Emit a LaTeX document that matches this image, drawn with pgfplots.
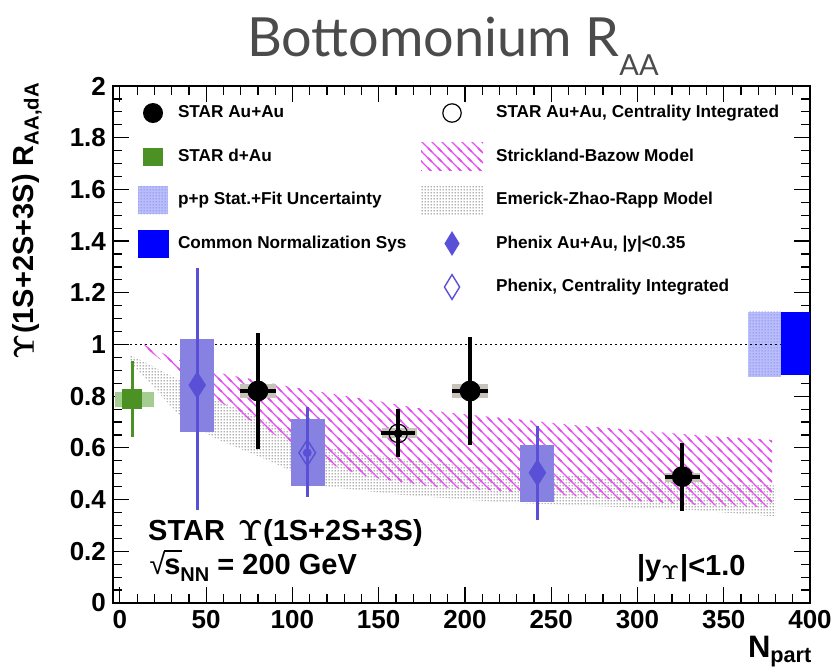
\documentclass[border=0pt]{standalone}
\usepackage[no-math]{fontspec}
\usepackage{amsmath}
\usepackage{pgfplots}
\pgfplotsset{compat=1.18}
\usetikzlibrary{patterns.meta}
\setmainfont{Liberation Sans}
\newfontfamily\titlefont{Lato}

\definecolor{phx}{RGB}{90,80,215}
\definecolor{phxbox}{RGB}{135,130,225}
\definecolor{dgreen}{RGB}{75,145,35}
\definecolor{lgreen}{RGB}{165,205,145}
\definecolor{sysgray}{RGB}{200,195,185}
\definecolor{hatchmag}{RGB}{230,80,240}
\definecolor{titlegray}{RGB}{75,75,75}
\definecolor{ppblue}{RGB}{185,190,250}
\definecolor{ppdot}{RGB}{110,115,240}

\tikzdeclarepattern{
  name=finedots,
  type=uncolored,
  bounding box={(0pt,0pt) and (1.3pt,1.3pt)},
  tile size={(1.3pt,1.3pt)},
  code={\pgfpathcircle{\pgfqpoint{0.65pt}{0.65pt}}{0.33pt}\pgfusepath{fill}}
}
\tikzdeclarepattern{
  name=graydots,
  type=uncolored,
  bounding box={(0pt,0pt) and (1.3pt,1.3pt)},
  tile size={(1.3pt,1.3pt)},
  code={\pgfpathcircle{\pgfqpoint{0.65pt}{0.65pt}}{0.4pt}\pgfusepath{fill}}
}
\tikzdeclarepattern{
  name=nwhatch,
  type=uncolored,
  bounding box={(-1pt,-1pt) and (6pt,6pt)},
  tile size={(5pt,5pt)},
  code={\pgfsetlinewidth{0.55pt}
    \pgfpathmoveto{\pgfqpoint{-1pt}{6pt}}\pgfpathlineto{\pgfqpoint{6pt}{-1pt}}
    \pgfpathmoveto{\pgfqpoint{-1pt}{1pt}}\pgfpathlineto{\pgfqpoint{1pt}{-1pt}}
    \pgfpathmoveto{\pgfqpoint{4pt}{6pt}}\pgfpathlineto{\pgfqpoint{6pt}{4pt}}
    \pgfusepath{stroke}}
}

\begin{document}
\begin{tikzpicture}
\useasboundingbox (-56.5pt,-33.5pt) rectangle (359.5pt,301.5pt);
\begin{axis}[
  scale only axis, width=348.5pt, height=258.5pt,
  clip=false,
  xmin=-4, xmax=400, ymin=0, ymax=2,
  xtick={0,50,100,150,200,250,300,350,400},
  ytick={0,0.2,0.4,0.6,0.8,1,1.2,1.4,1.6,1.8,2},
  minor x tick num=4, minor y tick num=3,
  tick align=inside,
  major tick length=8pt, minor tick length=4.5pt,
  axis line style={line width=0.8pt},
  every tick/.style={black, line width=0.6pt},
  /pgf/number format/assume math mode=true,
  ticklabel style={font=\fontsize{13}{13}\selectfont\bfseries},
  ylabel={$\mathbf{\Upsilon}$(1S+2S+3S) R$_{\textbf{AA,dA}}$},
  ylabel style={font=\fontsize{14.5}{15}\selectfont\bfseries, at={(axis description cs:-0.123,1.008)}, anchor=east, inner sep=0pt},
  xlabel={N$_{\textbf{part}}$},
  xlabel style={font=\fontsize{15.5}{16}\selectfont\bfseries, at={(axis description cs:1.004,-0.064)}, anchor=north east, inner sep=0pt},
  legend columns=2,
  legend cell align=left,
  legend style={draw=none, fill=none, at={(axis description cs:0.0359,0.9787)}, anchor=north west,
    inner sep=0pt, outer sep=0pt, row sep=5.75pt, column sep=4.5pt,
    font=\fontsize{8.6}{10}\selectfont\bfseries, nodes={inner sep=0pt},
    /tikz/column 2/.style={column sep=7.3pt},
    /tikz/column 3/.style={column sep=6.5pt}},
]

% ---------- legend ----------
\addlegendimage{legend image code/.code={\path[draw=none,fill=none] (0,-8pt) rectangle (15pt,8pt); \fill[black,draw=none] (7.5pt,0) circle (5pt);}}
\addlegendentry{STAR Au+Au}
\addlegendimage{legend image code/.code={\path[draw=none,fill=none] (0,-8pt) rectangle (31pt,8pt); \draw[black,fill=none,line width=0.6pt] (15.5pt,0) circle (4.6pt);}}
\addlegendentry{STAR Au+Au, Centrality Integrated}
\addlegendimage{legend image code/.code={\path[draw=none,fill=none] (0,-8pt) rectangle (15pt,8pt); \fill[dgreen,draw=none] (2.5pt,-4.5pt) rectangle (12.5pt,4.5pt);}}
\addlegendentry{STAR d+Au}
\addlegendimage{legend image code/.code={\path[draw=none,fill=none] (0,-8pt) rectangle (31pt,8pt); \path[draw=none,pattern=nwhatch, pattern color=hatchmag] (0,-7pt) rectangle (31pt,7pt);}}
\addlegendentry{Strickland-Bazow Model}
\addlegendimage{legend image code/.code={\path[draw=none,fill=none] (0,-8pt) rectangle (15pt,8pt); \fill[ppblue,draw=none] (0,-7pt) rectangle (15pt,7pt); \path[draw=none,pattern=finedots, pattern color=ppdot] (0,-7pt) rectangle (15pt,7pt);}}
\addlegendentry{p+p Stat.+Fit Uncertainty}
\addlegendimage{legend image code/.code={\path[draw=none,fill=none] (0,-8pt) rectangle (31pt,8pt); \path[draw=none,pattern=graydots, pattern color=black!60] (0,-7.5pt) rectangle (31pt,7.5pt);}}
\addlegendentry{Emerick-Zhao-Rapp Model}
\addlegendimage{legend image code/.code={\path[draw=none,fill=none] (0,-8pt) rectangle (15pt,8pt); \fill[blue,draw=none] (0,-7pt) rectangle (15.5pt,7pt);}}
\addlegendentry{Common Normalization Sys}
\addlegendimage{legend image code/.code={\path[draw=none,fill=none] (0,-8pt) rectangle (31pt,8pt); \fill[phx,draw=none] (15.5pt,6.2pt) -- (19.3pt,0pt) -- (15.5pt,-6.2pt) -- (11.7pt,0pt) -- cycle;}}
\addlegendentry{Phenix Au+Au, |y|<0.35}
\addlegendimage{empty legend}
\addlegendentry{}
\addlegendimage{legend image code/.code={\path[draw=none,fill=none] (0,-8pt) rectangle (31pt,8pt); \draw[phx,fill=none,line width=0.7pt] (15.5pt,6.2pt) -- (19.3pt,0pt) -- (15.5pt,-6.2pt) -- (11.7pt,0pt) -- cycle;}}
\addlegendentry{Phenix, Centrality Integrated}

% ---------- model bands ----------
% Emerick-Zhao-Rapp
\addplot[forget plot, black!60, draw=none, pattern=graydots, pattern color=black!60] coordinates {
 (5.6,0.96) (15,0.93) (25,0.895) (35,0.86) (54,0.79) (73,0.74) (100,0.66) (120,0.60) (160,0.56) (200,0.53) (250,0.50) (300,0.475) (380,0.455)
 (380,0.335) (330,0.36) (220,0.39) (160,0.42) (120,0.45) (83,0.56) (54,0.64) (33,0.735) (19,0.84) (5.6,0.93)} -- cycle;
% Strickland-Bazow
\addplot[forget plot, hatchmag, draw=none, pattern=nwhatch, pattern color=hatchmag] coordinates {
 (14,1.0) (30,0.95) (54,0.895) (80,0.86) (104,0.83) (150,0.78) (185,0.74) (215,0.72) (260,0.69) (300,0.667) (340,0.647) (378,0.63)
 (378,0.37) (330,0.38) (280,0.405) (220,0.435) (180,0.45) (143,0.49) (120,0.54) (100,0.61) (80,0.69) (60,0.77) (40,0.86) (14,0.99)} -- cycle;

% ---------- normalization boxes ----------
\addplot[forget plot, draw=none, fill=ppblue] coordinates {(364.2,0.875) (383,0.875) (383,1.127) (364.2,1.127)} -- cycle;
\addplot[forget plot, ppdot, draw=none, pattern=finedots, pattern color=ppdot] coordinates {(364.2,0.875) (383,0.875) (383,1.127) (364.2,1.127)} -- cycle;

% unity line
\addplot[forget plot, black, line width=0.9pt, dash pattern=on 0.9pt off 1.6pt] coordinates {(0,1) (383,1)};

\addplot[forget plot, draw=none, fill=blue] coordinates {(383,0.882) (400,0.882) (400,1.127) (383,1.127)} -- cycle;

% ---------- systematic boxes ----------
% STAR d+Au
\addplot[forget plot, draw=none, fill=lgreen] coordinates {(-3.1,0.757) (19.7,0.757) (19.7,0.817) (-3.1,0.817)} -- cycle;
% STAR Au+Au
\addplot[forget plot, draw=none, fill=sysgray] coordinates {(69.5,0.793) (90.5,0.793) (90.5,0.847) (69.5,0.847)} -- cycle;
\addplot[forget plot, draw=none, fill=sysgray] coordinates {(192.5,0.794) (213.5,0.794) (213.5,0.846) (192.5,0.846)} -- cycle;
\addplot[forget plot, draw=none, fill=sysgray] coordinates {(316,0.469) (336,0.469) (336,0.503) (316,0.503)} -- cycle;
\addplot[forget plot, draw=none, fill=sysgray] coordinates {(151.7,0.637) (172,0.637) (172,0.676) (151.7,0.676)} -- cycle;
% Phenix
\addplot[forget plot, draw=none, fill=phxbox] coordinates {(34.8,0.662) (54.5,0.662) (54.5,1.02) (34.8,1.02)} -- cycle;
\addplot[forget plot, draw=none, fill=phxbox] coordinates {(99,0.453) (118.8,0.453) (118.8,0.713) (99,0.713)} -- cycle;
\addplot[forget plot, draw=none, fill=phxbox] coordinates {(232,0.391) (251.8,0.391) (251.8,0.61) (232,0.61)} -- cycle;

% ---------- error bars ----------
% d+Au
\addplot[forget plot, dgreen, only marks, mark=none, error bars/.cd, y dir=both, y explicit, error mark=none,
  error bar style={line width=1.6pt, dgreen}] coordinates {(7.1,0.789) += (0,0.148) -= (0,0.148)};
% Phenix
\addplot[forget plot, phx, only marks, mark=none, error bars/.cd, y dir=both, y explicit, error mark=none,
  error bar style={line width=1.5pt, phx}] coordinates {
  (44.8,0.843) += (0,0.453) -= (0,0.483)
  (108.6,0.581) += (0,0.176) -= (0,0.172)
  (242,0.504) += (0,0.181) -= (0,0.183)};
% STAR Au+Au
\addplot[forget plot, black, only marks, mark=none, error bars/.cd, x dir=both, x explicit, y dir=both, y explicit, error mark=none,
  error bar style={line width=2pt, black}] coordinates {
  (80,0.82) += (10.5,0.226) -= (10.5,0.225)
  (203,0.82) += (10.5,0.21) -= (10.5,0.209)
  (326,0.489) += (10,0.129) -= (10,0.132)
  (161.3,0.656) += (10,0.093) -= (10,0.09)};

% ---------- markers ----------
\addplot[forget plot, only marks, mark=square*, mark size=4.75pt, dgreen] coordinates {(7.1,0.789)};
\addplot[forget plot, only marks, mark=*, mark size=5pt, black] coordinates {(80,0.82) (203,0.82) (326,0.489)};
\addplot[forget plot, only marks, mark=o, mark size=4.6pt, black, mark options={line width=0.6pt}] coordinates {(161.3,0.656)};
\addplot[forget plot, only marks, mark=diamond*, mark size=6.5pt, phx, mark options={xscale=0.85, fill=phx}] coordinates {(44.8,0.843) (242,0.504)};
\addplot[forget plot, only marks, mark=diamond, mark size=6.5pt, phx, mark options={xscale=0.85, line width=0.7pt}] coordinates {(108.6,0.581)};

% ---------- annotations ----------
\node[anchor=base west, inner sep=0pt, font=\fontsize{14.5}{15}\selectfont\bfseries] at (axis cs:16.2,0.241) {STAR\, $\mathbf{\Upsilon}$(1S+2S+3S)};
\node[anchor=base west, inner sep=0pt, font=\fontsize{14.5}{15}\selectfont\bfseries] at (axis cs:17,0.109) {{\mdseries √}\kern-0.6pt\rlap{\rule[0.80em]{0.62em}{0.05em}}s\raisebox{-0.22em}{\fontsize{10}{10}\selectfont NN} = 200 GeV};
\node[anchor=base west, inner sep=0pt, font=\fontsize{14.5}{15}\selectfont\bfseries] at (axis cs:299.5,0.108) {|y$_{\mathbf{\Upsilon}}$|<1.0};
\end{axis}
\node[anchor=base west, inner sep=0pt, text=titlegray, font=\titlefont\fontsize{27}{27}\selectfont] at ([xshift=66.85pt, yshift=14.65pt]current axis.north west) {Bottomonium R\raisebox{-9.5pt}{\fontsize{14.5}{14.5}\selectfont AA}};
\end{tikzpicture}
\end{document}
